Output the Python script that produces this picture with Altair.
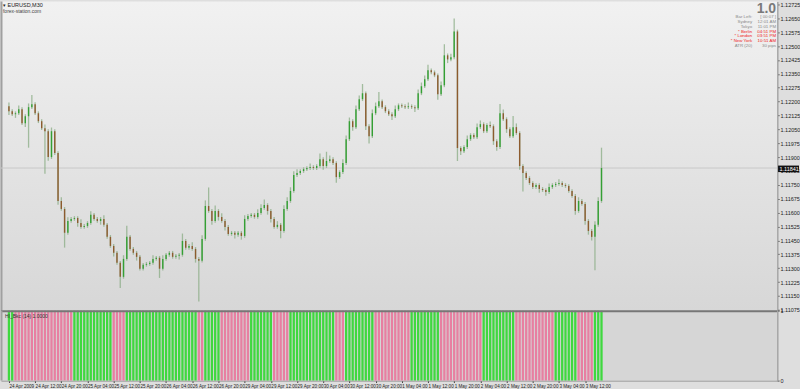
import altair as alt
import pandas as pd

# ---------------- data ----------------
open_first = 1.12175
close = [
    1.12148, 1.12132, 1.12137, 1.12159, 1.12083, 1.12121, 1.12170, 1.12186, 1.12137, 1.12094,
    1.12056, 1.12040, 1.11900, 1.12040, 1.11922, 1.11663, 1.11620, 1.11491, 1.11555, 1.11566,
    1.11571, 1.11544, 1.11523, 1.11528, 1.11544, 1.11588, 1.11566, 1.11555, 1.11566, 1.11534,
    1.11469, 1.11420, 1.11383, 1.11329, 1.11253, 1.11350, 1.11469, 1.11404, 1.11383, 1.11361,
    1.11297, 1.11318, 1.11323, 1.11329, 1.11350, 1.11356, 1.11297, 1.11350, 1.11372, 1.11383,
    1.11361, 1.11367, 1.11372, 1.11447, 1.11410, 1.11420, 1.11404, 1.11350, 1.11340, 1.11458,
    1.11636, 1.11609, 1.11555, 1.11609, 1.11577, 1.11555, 1.11523, 1.11485, 1.11491, 1.11480,
    1.11491, 1.11474, 1.11566, 1.11582, 1.11588, 1.11577, 1.11598, 1.11625, 1.11641, 1.11609,
    1.11566, 1.11523, 1.11534, 1.11501, 1.11620, 1.11663, 1.11717, 1.11803, 1.11814, 1.11825,
    1.11835, 1.11841, 1.11846, 1.11841, 1.11852, 1.11889, 1.11852, 1.11879, 1.11889, 1.11868,
    1.11792, 1.11819, 1.11868, 1.11997, 1.12094, 1.12062, 1.12159, 1.12213, 1.12245, 1.12067,
    1.12013, 1.12137, 1.12175, 1.12202, 1.12170, 1.12148, 1.12132, 1.12121, 1.12159, 1.12180,
    1.12175, 1.12170, 1.12175, 1.12170, 1.12164, 1.12245, 1.12283, 1.12321, 1.12369, 1.12358,
    1.12342, 1.12240, 1.12288, 1.12450, 1.12428, 1.12439, 1.12579, 1.11949, 1.11932, 1.11954,
    1.11997, 1.12019, 1.12008, 1.12062, 1.12078, 1.12040, 1.12073, 1.12067, 1.11986, 1.11954,
    1.12137, 1.12105, 1.12051, 1.12013, 1.12062, 1.12030, 1.11852, 1.11814, 1.11787, 1.11760,
    1.11738, 1.11749, 1.11728, 1.11722, 1.11711, 1.11738, 1.11749, 1.11755, 1.11760, 1.11749,
    1.11744, 1.11717, 1.11690, 1.11609, 1.11663, 1.11647, 1.11555, 1.11501, 1.11469, 1.11534,
    1.11663, 1.11841,
]
upper_wick_pips = [
    2, 1, 1, 2, 1, 1, 2, 5, 1, 1,
    1, 2, 1, 2, 1, 1, 2, 1, 2, 1,
    1, 1, 2, 1, 1, 2, 1, 1, 1, 2,
    1, 1, 1, 1, 1, 2, 6, 1, 1, 1,
    1, 1, 1, 1, 2, 1, 1, 2, 1, 1,
    1, 1, 1, 4, 1, 1, 2, 1, 1, 2,
    3, 10, 1, 3, 1, 2, 1, 1, 1, 1,
    1, 1, 2, 1, 1, 1, 2, 2, 3, 1,
    1, 1, 2, 1, 2, 2, 2, 2, 2, 1,
    1, 1, 2, 1, 1, 3, 1, 5, 2, 1,
    1, 1, 2, 2, 2, 1, 2, 2, 5, 1,
    1, 2, 2, 5, 1, 1, 1, 1, 2, 1,
    1, 1, 2, 1, 1, 2, 2, 2, 3, 1,
    1, 1, 2, 6, 1, 2, 7, 1, 1, 1,
    2, 1, 1, 2, 2, 1, 1, 2, 1, 1,
    5, 2, 1, 1, 6, 2, 1, 1, 1, 1,
    1, 1, 1, 1, 1, 2, 1, 1, 2, 1,
    1, 1, 1, 1, 2, 1, 1, 1, 1, 2,
    2, 11,
]
lower_wick_pips = [
    2, 1, 2, 1, 1, 2, 17, 1, 1, 1,
    1, 23, 2, 1, 1, 2, 1, 8, 1, 1,
    1, 2, 1, 1, 1, 1, 1, 1, 2, 1,
    1, 1, 2, 1, 6, 1, 1, 1, 1, 2,
    1, 1, 1, 1, 1, 1, 5, 1, 1, 1,
    1, 1, 2, 1, 1, 1, 1, 2, 22, 1,
    1, 1, 2, 1, 2, 1, 2, 1, 1, 2,
    1, 2, 1, 1, 1, 1, 1, 1, 1, 2,
    2, 1, 1, 4, 1, 1, 1, 1, 1, 1,
    1, 1, 1, 1, 1, 1, 2, 1, 1, 1,
    3, 1, 1, 1, 1, 2, 1, 1, 1, 2,
    4, 1, 1, 1, 1, 1, 1, 2, 1, 1,
    1, 1, 1, 1, 2, 1, 1, 1, 1, 1,
    1, 3, 1, 1, 2, 1, 1, 7, 2, 1,
    1, 1, 1, 1, 1, 1, 1, 1, 2, 2,
    1, 1, 2, 1, 1, 1, 2, 10, 1, 1,
    1, 1, 2, 1, 2, 1, 1, 1, 1, 1,
    1, 1, 1, 2, 1, 1, 2, 2, 2, 18,
    1, 1,
]
# indicator state runs: (1 = up / green, 0 = down / pink, number of bars)
trend_runs = [(1, 2), (0, 18), (1, 12), (0, 4), (1, 22), (0, 2), (1, 5), (0, 9), (1, 7),
              (0, 5), (1, 14), (0, 3), (1, 9), (0, 11), (1, 9), (0, 13), (1, 10), (0, 12),
              (1, 7), (0, 5), (1, 3)]
time_labels = ["24 Apr 2009", "24 Apr 12:00", "24 Apr 20:00", "25 Apr 04:00", "25 Apr 12:00",
               "25 Apr 20:00", "26 Apr 04:00", "26 Apr 12:00", "26 Apr 20:00", "29 Apr 04:00",
               "29 Apr 12:00", "29 Apr 20:00", "30 Apr 04:00", "30 Apr 12:00", "30 Apr 20:00",
               "1 May 04:00", "1 May 12:00", "1 May 20:00", "2 May 04:00", "2 May 12:00",
               "2 May 20:00", "3 May 04:00", "3 May 12:00"]
price_ticks = [1.11075, 1.11150, 1.11225, 1.11300, 1.11375, 1.11450, 1.11525, 1.11600,
               1.11675, 1.11750, 1.11825, 1.11900, 1.11975, 1.12050, 1.12125, 1.12200,
               1.12275, 1.12350, 1.12425, 1.12500, 1.12575, 1.12650, 1.12725]
bid_price = close[-1]
info_labels = ["Bar Left:", "Sydney", "Tokyo", "* Berlin", "* London", "* New York", "ATR (20)"]
info_values = ["[ 00:07 ]", "12:01 AM", "11:01 PM", "04:51 PM", "03:51 PM", "10:51 AM", "30 pips"]
info_red = [False, False, False, True, True, True, False]

# ---------------- build tables ----------------
n = len(close)
opens = [open_first] + close[:-1]
rows = []
for i in range(n):
    o, c = opens[i], close[i]
    rows.append(dict(i=i, o=o, c=c,
                     h=max(o, c) + upper_wick_pips[i] * 0.0001,
                     l=min(o, c) - lower_wick_pips[i] * 0.0001,
                     d="bull" if c >= o else "bear"))
df = pd.DataFrame(rows)

states = []
for s, k in trend_runs:
    states += [s] * k
ind = pd.DataFrame({"i": list(range(len(states))), "v": [1] * len(states),
                    "s": ["rising" if s else "falling" for s in states]})

one = pd.DataFrame({"a": [0]})
W, H1, H2 = 778, 310, 70
FONT = "Liberation Sans"

xs = alt.Scale(domain=[-0.9, 233.1], nice=False, zero=False)
ys = alt.Scale(domain=[1.11070, 1.12741], nice=False, zero=False)
yaxis = alt.Axis(orient="right", values=price_ticks, format=".5f", title=None, grid=False,
                 labelFont=FONT, labelFontSize=5.5, labelColor="#222222", labelPadding=1,
                 tickSize=2, tickColor="#444444", domainColor="#a6a6a6", domainWidth=2,
                 labelFlush=False, labelOverlap=False)

grad = {"gradient": "linear", "x1": 0, "y1": 0, "x2": 0, "y2": 1,
        "stops": [{"offset": 0, "color": "#f1f1f1"}, {"offset": 1, "color": "#d7d7d7"}]}

bg = alt.Chart(one).mark_rect(color=grad).encode(
    x=alt.value(0), x2=alt.value(W), y=alt.value(0), y2=alt.value(H1))
leftline = alt.Chart(one).mark_rule(color="#a0a0a0", strokeWidth=2).encode(
    x=alt.value(0.5), y=alt.value(0), y2=alt.value(H1))

bid_df = pd.DataFrame({"p": [bid_price]})
bid = alt.Chart(bid_df).mark_rule(color="#c8c8c8", strokeWidth=1).encode(
    y=alt.Y("p:Q", scale=ys, axis=yaxis), x=alt.value(0), x2=alt.value(W))

wicks = alt.Chart(df).mark_rule(color="#8aac84", strokeWidth=1.3, opacity=0.75).encode(
    x=alt.X("i:Q", scale=xs, axis=None),
    y=alt.Y("l:Q", scale=ys, axis=yaxis), y2="h:Q")
bodies = alt.Chart(df).mark_bar(size=1.4).encode(
    x=alt.X("i:Q", scale=xs, axis=None),
    y=alt.Y("o:Q", scale=ys, axis=yaxis), y2="c:Q",
    color=alt.Color("d:N", scale=alt.Scale(domain=["bull", "bear"], range=["#34a034", "#8c5b2e"]),
                    legend=None))


def txt(t, x, y, **kw):
    return alt.Chart(one).mark_text(text=t, font=FONT, **kw).encode(x=alt.value(x), y=alt.value(y))


texts = [
    txt("\u25BE EURUSD,M30", 2, 4, align="left", baseline="middle", fontSize=5.5, color="#222222"),
    txt("forex-station.com", 2, 9.5, align="left", baseline="middle", fontSize=5, color="#444444"),
    txt("1.0", 777, 8, align="right", baseline="middle", fontSize=14, fontWeight="bold", color="#7a7a7a"),
]
for k, (lab, val, red) in enumerate(zip(info_labels, info_values, info_red)):
    col = "#ee2020" if red else "#8a8a8a"
    yy = 16 + k * 4.7
    texts.append(txt(lab, 753, yy, align="right", baseline="middle", fontSize=4.4, color=col))
    texts.append(txt(val, 777, yy, align="right", baseline="middle", fontSize=4.4, color=col))

price_box = alt.Chart(one).mark_rect(color="#111111").encode(
    x=alt.value(W + 1), x2=alt.value(W + 22), y=alt.value(164.5), y2=alt.value(171))
price_txt = txt(f"{bid_price:.5f}", W + 2.5, 168, align="left", baseline="middle", fontSize=5.5,
                color="#ffffff")

main = alt.layer(bg, leftline, bid, wicks, bodies, *texts, price_box, price_txt).properties(
    width=W, height=H1)

# ---------------- indicator panel ----------------
label_expr = "[" + ",".join("'" + t + "'" for t in time_labels) + "][round(datum.value / 8)]"
xaxis = alt.Axis(values=list(range(0, 8 * len(time_labels), 8)), labelExpr=label_expr,
                 labelAlign="left", labelFont=FONT, labelFontSize=4.6, labelColor="#222222",
                 labelPadding=1, tickSize=2, tickColor="#444444", domainColor="#8a8a8a",
                 domainWidth=1, grid=False, title=None, labelOverlap=False, labelFlush=False)
iyaxis = alt.Axis(orient="right", values=[0, 1], format="d", title=None, grid=False,
                  labelFont=FONT, labelFontSize=5.5, labelColor="#222222", labelPadding=1,
                  tickSize=2, tickColor="#444444", domainColor="#a6a6a6", domainWidth=2)

bg2 = alt.Chart(one).mark_rect(color="#d6d6d6").encode(
    x=alt.value(0), x2=alt.value(W), y=alt.value(0), y2=alt.value(H2))
ind_bars = alt.Chart(ind).mark_bar(size=2.3).encode(
    x=alt.X("i:Q", scale=xs, axis=xaxis),
    y=alt.Y("v:Q", scale=alt.Scale(domain=[0, 1], nice=False), axis=iyaxis),
    color=alt.Color("s:N", scale=alt.Scale(domain=["rising", "falling"], range=["#3fd83f", "#e77fa1"]),
                    legend=None))
sep = alt.Chart(one).mark_rule(color="#777777", strokeWidth=2).encode(
    x=alt.value(0), x2=alt.value(W), y=alt.value(0.5))
left2 = alt.Chart(one).mark_rule(color="#a0a0a0", strokeWidth=2).encode(
    x=alt.value(0.5), y=alt.value(0), y2=alt.value(H2))
ind_title = txt("HI_Bkc (14) 1.0000", 4, 5, align="left", baseline="middle", fontSize=5,
                color="#333333")

indicator = alt.layer(bg2, ind_bars, sep, left2, ind_title).properties(width=W, height=H2)

chart = alt.vconcat(main, indicator, spacing=0, bounds="flush").resolve_scale(
    color="independent", x="shared"
).properties(padding=0, background="#dedede").configure_view(stroke=None)

chart.save("out.html", embed_options={"renderer": "svg", "actions": False})
